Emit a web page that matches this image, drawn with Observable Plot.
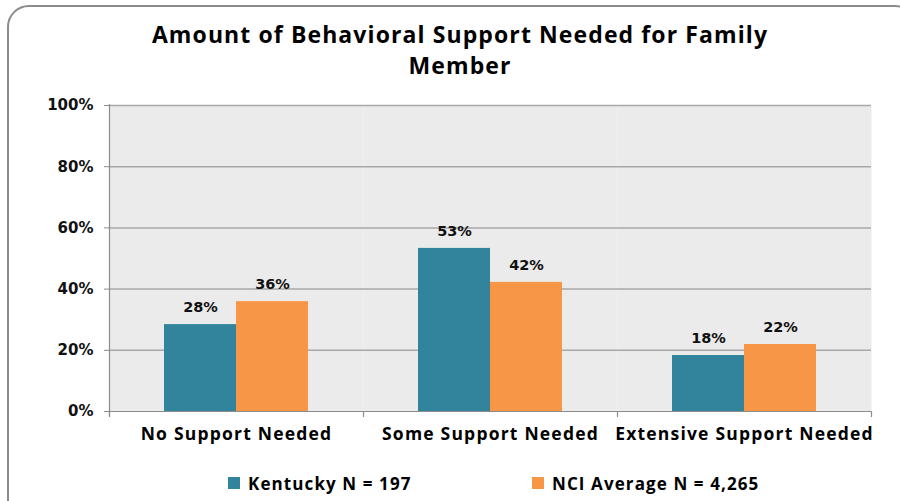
<!DOCTYPE html>
<html>
<head>
<meta charset="utf-8">
<script src="https://cdn.jsdelivr.net/npm/d3@7"></script>
<script src="https://cdn.jsdelivr.net/npm/@observablehq/plot@0.6"></script>
<style>
  html, body { margin: 0; padding: 0; background: #fff; }
  #wrap { position: relative; width: 900px; height: 501px; overflow: hidden; background: #fff; }
  #border { position: absolute; left: 7px; top: 5px; width: 910px; height: 520px; border: 2px solid #8c8c8c; border-radius: 22px; box-sizing: border-box; }
  #title { position: absolute; left: 0; top: 19px; width: 920px; text-align: center; font-family: "Open Sans", sans-serif; font-weight: bold; font-size: 23px; letter-spacing: 1.1px; line-height: 31px; color: #000; }
  #chart { position: absolute; left: 0; top: 85px; }
  #legend { position: absolute; top: 472px; left: 0; width: 900px; height: 22px; font-family: "Open Sans", sans-serif; font-weight: bold; font-size: 17px; letter-spacing: 1.1px; color: #000; }
  .item { position: absolute; top: 0; display: flex; align-items: center; height: 22px; }
  .sw { width: 12px; height: 12px; margin-right: 8px; }
</style>
</head>
<body>
<div id="wrap">
  <div id="border"></div>
  <div id="title">Amount of Behavioral Support Needed for Family<br>Member</div>
  <div id="chart"></div>
  <div id="legend"></div>
</div>
<script>
const categories = ["No Support Needed", "Some Support Needed", "Extensive Support Needed"];
const seriesNames = ["Kentucky N = 197", "NCI Average N = 4,265"];
const kentucky = [28.4, 53.3, 18.3];
const nciAverage = [35.9, 42.2, 21.9];
const yTicks = [0, 20, 40, 60, 80, 100];
const colors = ["#31849b", "#f79646"];

const data = categories.flatMap((c, i) => [
  {category: c, series: seriesNames[0], value: kentucky[i]},
  {category: c, series: seriesNames[1], value: nciAverage[i]}
]);

const labelFont = "DejaVu Sans, Verdana, sans-serif";
const line = {draw(context, l) { context.moveTo(0, 0); context.lineTo(0, -l); }};

const chart = Plot.plot({
  width: 900,
  height: 370,
  marginLeft: 108,
  marginRight: 28,
  marginTop: 20,
  marginBottom: 44,
  style: {background: "transparent", overflow: "visible"},
  fx: {domain: categories, padding: 0, label: null},
  x: {domain: seriesNames, paddingInner: 0, paddingOuter: 0.75, axis: null},
  y: {domain: [0, 100], label: null},
  color: {domain: seriesNames, range: colors},
  marks: [
    Plot.frame({fill: "#ebebeb", stroke: null}),
    Plot.ruleY(yTicks.slice(1), {stroke: "#a8a8a8", strokeWidth: 1.5}),
    Plot.barY(data, {fx: "category", x: "series", y: "value", fill: "series"}),
    Plot.text(data, {fx: "category", x: "series", y: "value", text: d => Math.round(d.value) + "%",
      dy: -17, fontSize: 14.5, fontWeight: "bold", fontFamily: labelFont, fill: "#111"}),
    Plot.ruleY([0], {stroke: "#8c8c8c", strokeWidth: 1.2}),
    Plot.vector([categories[0]], {fx: d => d, frameAnchor: "bottom-left", anchor: "start", rotate: 0,
      length: 312, dy: 5, stroke: "#8c8c8c", strokeWidth: 1.2, shape: line}),
    Plot.vector(categories, {fx: d => d, frameAnchor: "bottom-left", anchor: "start", rotate: 180,
      length: 5, stroke: "#8c8c8c", strokeWidth: 1.2, shape: line}),
    Plot.vector([categories[2]], {fx: d => d, frameAnchor: "bottom-right", anchor: "start", rotate: 180,
      length: 5, stroke: "#8c8c8c", strokeWidth: 1.2, shape: line}),
    Plot.axisY({ticks: yTicks, tickFormat: d => d + "%", tickSize: 5, tickPadding: 11, stroke: "#8c8c8c",
      fill: "#111", fontSize: 15, fontWeight: "bold", fontFamily: labelFont, label: null}),
    Plot.axisFx({anchor: "bottom", tickSize: 0, tickPadding: 16, fontSize: 17.5, fontWeight: "bold",
      fontFamily: "Open Sans, sans-serif", fill: "#000", label: null})
  ]
});
d3.select(chart).selectAll('g[aria-label="fx-axis tick label"] text').attr("letter-spacing", "1.2px");
document.getElementById("chart").appendChild(chart);

const legend = document.getElementById("legend");
const legendX = [228, 532];
seriesNames.forEach((s, i) => {
  const item = document.createElement("div");
  item.className = "item";
  item.style.left = legendX[i] + "px";
  const sw = document.createElement("div");
  sw.className = "sw";
  sw.style.background = colors[i];
  const t = document.createElement("span");
  t.textContent = s;
  item.appendChild(sw);
  item.appendChild(t);
  legend.appendChild(item);
});
</script>
</body>
</html>
